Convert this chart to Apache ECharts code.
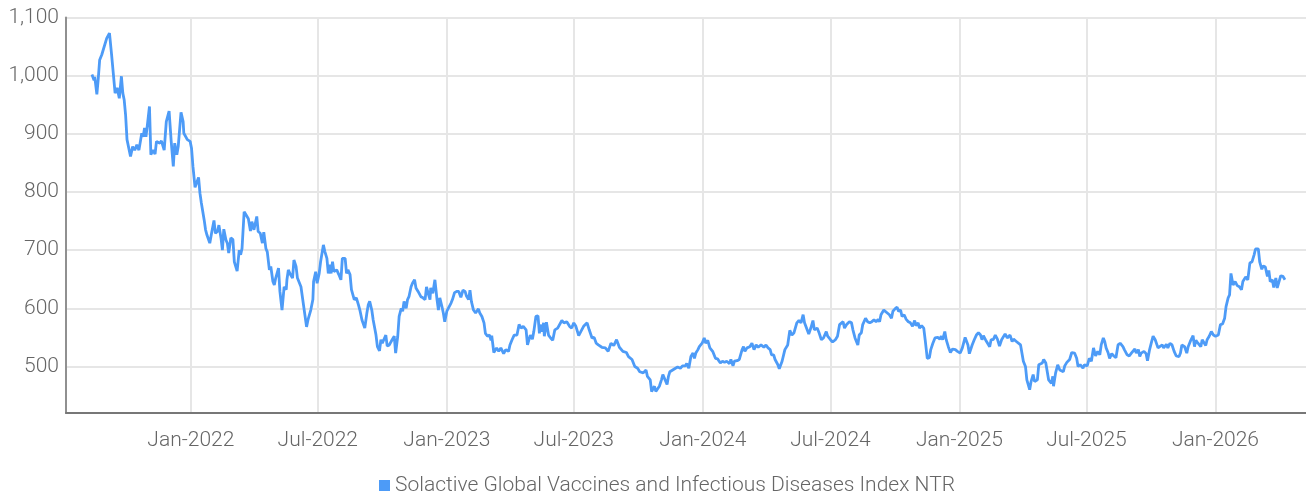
<!DOCTYPE html>
<html>
<head>
<meta charset="utf-8">
<script src="https://cdn.jsdelivr.net/npm/echarts@6/dist/echarts.min.js"></script>
<style>
html,body{margin:0;padding:0;background:#fff;}
#c{width:1306px;height:498px;}
</style>
</head>
<body>
<div id="c"></div>
<script>
const seriesName = 'Solactive Global Vaccines and Infectious Diseases Index NTR';

const points2021 = [
['2021-08-13',1002],['2021-08-16',992],['2021-08-17',998],['2021-08-20',968],['2021-08-22',995],['2021-08-24',1027],['2021-08-27',1036],
['2021-09-03',1064],['2021-09-07',1073],['2021-09-10',1036],['2021-09-15',970],['2021-09-18',979],['2021-09-21',961],['2021-09-24',999],['2021-09-26',970],['2021-09-28',958],['2021-09-30',932],
['2021-10-02',890],['2021-10-07',861],['2021-10-10',878],['2021-10-13',872],['2021-10-16',881],['2021-10-19',872],['2021-10-23',901],['2021-10-25',895],['2021-10-27',910],['2021-10-29',895],['2021-10-31',915],
['2021-11-03',947],['2021-11-05',864],['2021-11-08',872],['2021-11-11',865],['2021-11-13',887],['2021-11-18',884],['2021-11-20',888],['2021-11-24',872],['2021-11-27',921],
['2021-12-01',939],['2021-12-04',887],['2021-12-07',844],['2021-12-09',884],['2021-12-12',864],['2021-12-14',878],['2021-12-16',878],['2021-12-18',937],['2021-12-21',921],['2021-12-22',901],['2021-12-27',890],['2021-12-31',887]
];
const points2022 = [
['2022-01-02',875],['2022-01-04',844],['2022-01-07',808],['2022-01-09',809],['2022-01-12',825],['2022-01-14',798],['2022-01-16',781],['2022-01-20',752],['2022-01-22',735],['2022-01-24',726],['2022-01-28',712],['2022-01-31',732],
['2022-02-03',751],['2022-02-05',729],['2022-02-08',732],['2022-02-10',743],['2022-02-13',721],['2022-02-15',700],['2022-02-17',736],['2022-02-20',718],['2022-02-22',712],['2022-02-24',695],['2022-02-27',721],
['2022-03-02',718],['2022-03-04',680],['2022-03-08',664],['2022-03-11',700],['2022-03-13',692],['2022-03-15',703],['2022-03-18',766],['2022-03-20',762],['2022-03-22',764],['2022-03-24',754],['2022-03-27',733],['2022-03-29',749],
['2022-04-01',735],['2022-04-05',758],['2022-04-07',732],['2022-04-10',729],['2022-04-13',712],['2022-04-15',731],['2022-04-18',703],['2022-04-20',697],['2022-04-23',666],['2022-04-25',672],['2022-04-28',646],['2022-04-30',640],
['2022-05-02',652],['2022-05-06',669],['2022-05-08',629],['2022-05-11',597],['2022-05-14',637],['2022-05-17',632],['2022-05-18',649],['2022-05-20',666],['2022-05-23',658],['2022-05-26',652],['2022-05-28',683],['2022-05-31',672],
['2022-06-02',652],['2022-06-05',643],['2022-06-07',637],['2022-06-15',568],['2022-06-17',580],['2022-06-21',597],['2022-06-24',615],['2022-06-25',646],['2022-06-28',663],['2022-06-30',643],
['2022-07-03',660],['2022-07-05',680],['2022-07-09',709],['2022-07-11',698],['2022-07-14',686],['2022-07-16',660],['2022-07-18',675],['2022-07-20',660],['2022-07-22',680],['2022-07-24',663],['2022-07-28',666],['2022-07-31',658],
['2022-08-03',649],['2022-08-05',686],['2022-08-09',686],['2022-08-11',660],['2022-08-13',666],['2022-08-16',658],['2022-08-18',632],['2022-08-22',615],['2022-08-25',618],['2022-08-28',606],['2022-08-30',597],
['2022-09-02',580],['2022-09-06',566],['2022-09-09',592],['2022-09-11',606],['2022-09-13',612],['2022-09-16',597],['2022-09-18',580],['2022-09-22',554],['2022-09-24',534],['2022-09-27',527],['2022-09-29',546],
['2022-10-01',540],['2022-10-03',543],['2022-10-06',554],['2022-10-08',535],['2022-10-11',537],['2022-10-13',534],['2022-10-15',546],['2022-10-18',552],['2022-10-20',523],['2022-10-23',552],['2022-10-25',586],['2022-10-28',600],['2022-10-30',595],
['2022-11-01',612],['2022-11-04',600],['2022-11-06',615],['2022-11-08',620],['2022-11-11',637],['2022-11-13',643],['2022-11-16',649],['2022-11-18',635],['2022-11-21',629],['2022-11-25',620],['2022-11-28',618],
['2022-12-01',615],['2022-12-03',637],['2022-12-06',623],['2022-12-08',615],['2022-12-09',635],['2022-12-12',626],['2022-12-15',649],['2022-12-18',615],['2022-12-20',597],['2022-12-22',618],['2022-12-25',603],['2022-12-27',592],['2022-12-29',577]
];
const points2023 = [
['2023-01-01',595],['2023-01-03',592],['2023-01-07',609],['2023-01-09',615],['2023-01-12',627],['2023-01-15',629],['2023-01-18',629],['2023-01-21',619],['2023-01-24',631],['2023-01-27',629],['2023-01-29',621],
['2023-02-01',615],['2023-02-03',631],['2023-02-05',612],['2023-02-08',597],['2023-02-11',592],['2023-02-15',599],['2023-02-17',592],['2023-02-20',586],['2023-02-23',575],['2023-02-25',557],['2023-02-28',552],
['2023-03-03',554],['2023-03-05',545],['2023-03-06',553],['2023-03-09',524],['2023-03-13',532],['2023-03-16',526],['2023-03-19',532],['2023-03-23',522],['2023-03-26',529],['2023-03-30',526],
['2023-04-01',537],['2023-04-04',546],['2023-04-07',554],['2023-04-11',554],['2023-04-14',572],['2023-04-17',566],['2023-04-20',569],['2023-04-24',563],['2023-04-26',537],['2023-04-30',554],
['2023-05-03',547],['2023-05-05',560],['2023-05-08',586],['2023-05-11',587],['2023-05-13',557],['2023-05-14',572],['2023-05-16',560],['2023-05-19',575],['2023-05-20',552],['2023-05-23',576],['2023-05-26',554],['2023-05-29',549],
['2023-06-01',545],['2023-06-04',563],['2023-06-08',566],['2023-06-10',563],['2023-06-14',579],['2023-06-17',575],['2023-06-21',577],['2023-06-25',569],['2023-06-28',566],
['2023-07-01',575],['2023-07-04',569],['2023-07-08',553],['2023-07-11',560],['2023-07-15',569],['2023-07-20',575],['2023-07-23',563],['2023-07-27',549],['2023-07-30',550],
['2023-08-02',540],['2023-08-05',537],['2023-08-10',533],['2023-08-15',532],['2023-08-19',526],['2023-08-23',540],['2023-08-27',536],['2023-08-31',546],
['2023-09-04',533],['2023-09-09',526],['2023-09-14',524],['2023-09-17',517],['2023-09-22',512],['2023-09-26',500],['2023-09-30',497],
['2023-10-03',491],['2023-10-05',494],['2023-10-08',489],['2023-10-12',494],['2023-10-14',483],['2023-10-18',477],['2023-10-20',457],['2023-10-24',466],['2023-10-26',457],['2023-10-28',454],['2023-10-31',466],
['2023-11-03',477],['2023-11-05',486],['2023-11-07',486],['2023-11-11',469],['2023-11-13',483],['2023-11-15',491],['2023-11-19',494],['2023-11-23',497],['2023-11-26',499],['2023-11-30',497],
['2023-12-03',501],['2023-12-07',501],['2023-12-09',505],['2023-12-12',497],['2023-12-15',517],['2023-12-18',523],['2023-12-20',514],['2023-12-22',523],['2023-12-25',529],['2023-12-27',534],['2023-12-31',540]
];
const points2024 = [
['2024-01-03',549],['2024-01-05',540],['2024-01-08',545],['2024-01-11',532],['2024-01-15',526],['2024-01-19',514],['2024-01-22',513],['2024-01-26',506],['2024-01-29',509],
['2024-02-01',507],['2024-02-04',509],['2024-02-08',505],['2024-02-10',512],['2024-02-13',501],['2024-02-15',509],['2024-02-19',510],['2024-02-22',512],['2024-02-26',529],['2024-02-28',534],
['2024-03-01',526],['2024-03-04',532],['2024-03-08',534],['2024-03-11',540],['2024-03-14',529],['2024-03-17',537],['2024-03-20',533],['2024-03-24',537],['2024-03-28',533],['2024-03-31',537],
['2024-04-03',532],['2024-04-06',529],['2024-04-08',520],['2024-04-11',520],['2024-04-13',512],['2024-04-17',503],['2024-04-19',496],['2024-04-20',497],['2024-04-23',509],['2024-04-25',506],['2024-04-27',529],
['2024-05-01',537],['2024-05-04',562],['2024-05-07',554],['2024-05-10',558],['2024-05-14',575],['2024-05-17',579],['2024-05-20',575],['2024-05-23',589],['2024-05-25',575],['2024-05-27',577],['2024-05-31',556],
['2024-06-03',566],['2024-06-06',579],['2024-06-08',563],['2024-06-12',566],['2024-06-15',557],['2024-06-18',546],['2024-06-21',549],['2024-06-25',560],['2024-06-27',552],
['2024-07-01',546],['2024-07-04',542],['2024-07-08',546],['2024-07-11',552],['2024-07-14',572],['2024-07-16',573],['2024-07-19',577],['2024-07-21',566],['2024-07-24',572],['2024-07-26',569],['2024-07-28',577],['2024-07-31',575],
['2024-08-02',563],['2024-08-05',549],['2024-08-09',537],['2024-08-11',554],['2024-08-14',558],['2024-08-16',572],['2024-08-20',583],['2024-08-23',577],['2024-08-26',575],['2024-08-29',577],
['2024-09-01',580],['2024-09-04',577],['2024-09-07',581],['2024-09-09',577],['2024-09-11',589],['2024-09-15',597],['2024-09-17',600],['2024-09-20',592],['2024-09-23',589],['2024-09-26',583],['2024-09-28',595],
['2024-10-01',599],['2024-10-04',602],['2024-10-06',595],['2024-10-09',597],['2024-10-11',586],['2024-10-14',589],['2024-10-17',581],['2024-10-20',577],['2024-10-23',575],['2024-10-26',569],['2024-10-29',579],['2024-10-31',570],
['2024-11-03',575],['2024-11-05',566],['2024-11-08',570],['2024-11-11',566],['2024-11-13',546],['2024-11-16',514],['2024-11-19',515],['2024-11-21',529],['2024-11-24',540],['2024-11-27',549],
['2024-12-01',550],['2024-12-04',547],['2024-12-06',552],['2024-12-08',546],['2024-12-11',560],['2024-12-13',546],['2024-12-16',534],['2024-12-19',524],['2024-12-22',530],['2024-12-26',529],['2024-12-29',526]
];
const points2025 = [
['2025-01-02',523],['2025-01-05',532],['2025-01-09',550],['2025-01-13',537],['2025-01-15',522],['2025-01-19',537],['2025-01-22',546],['2025-01-25',554],['2025-01-28',558],['2025-01-31',554],
['2025-02-02',546],['2025-02-04',553],['2025-02-07',546],['2025-02-09',546],['2025-02-13',534],['2025-02-15',546],['2025-02-18',546],['2025-02-21',554],['2025-02-24',547],['2025-02-27',535],
['2025-03-02',546],['2025-03-04',543],['2025-03-07',556],['2025-03-10',549],['2025-03-12',546],['2025-03-14',554],['2025-03-17',543],['2025-03-19',547],['2025-03-23',543],['2025-03-25',546],['2025-03-29',537],
['2025-04-02',509],['2025-04-05',500],['2025-04-07',477],['2025-04-11',460],['2025-04-13',474],['2025-04-16',486],['2025-04-18',474],['2025-04-22',477],['2025-04-24',503],['2025-04-26',500],['2025-04-29',506],
['2025-05-01',512],['2025-05-04',506],['2025-05-08',477],['2025-05-12',471],['2025-05-14',483],['2025-05-15',466],['2025-05-18',489],['2025-05-21',503],['2025-05-24',494],['2025-05-26',497],['2025-05-29',491],['2025-05-31',501],
['2025-06-03',507],['2025-06-07',512],['2025-06-10',524],['2025-06-14',523],['2025-06-17',514],['2025-06-19',500],['2025-06-22',503],['2025-06-26',497],['2025-06-28',503],
['2025-07-02',501],['2025-07-05',514],['2025-07-08',509],['2025-07-11',532],['2025-07-14',518],['2025-07-17',526],['2025-07-20',520],['2025-07-22',537],['2025-07-25',549],['2025-07-27',543],['2025-07-29',532],
['2025-08-01',523],['2025-08-03',514],['2025-08-06',522],['2025-08-09',518],['2025-08-12',515],['2025-08-15',537],['2025-08-18',540],['2025-08-22',534],['2025-08-24',529],['2025-08-28',520],['2025-08-31',518],
['2025-09-03',523],['2025-09-05',520],['2025-09-08',530],['2025-09-10',523],['2025-09-13',529],['2025-09-15',517],['2025-09-17',523],['2025-09-21',526],['2025-09-24',522],['2025-09-26',510],['2025-09-29',529],
['2025-10-02',543],['2025-10-04',552],['2025-10-07',546],['2025-10-11',532],['2025-10-13',534],['2025-10-17',537],['2025-10-19',532],['2025-10-23',538],['2025-10-25',532],['2025-10-28',540],['2025-10-31',537],
['2025-11-03',526],['2025-11-06',518],['2025-11-10',517],['2025-11-12',523],['2025-11-14',537],['2025-11-18',534],['2025-11-21',523],['2025-11-23',534],['2025-11-26',543],['2025-11-30',553],
['2025-12-02',534],['2025-12-04',545],['2025-12-07',540],['2025-12-11',534],['2025-12-13',546],['2025-12-15',546],['2025-12-18',536],['2025-12-20',546],['2025-12-23',552],['2025-12-26',560],['2025-12-29',554]
];
const points2026 = [
['2026-01-01',552],['2026-01-05',554],['2026-01-08',572],['2026-01-11',573],['2026-01-14',583],['2026-01-16',603],['2026-01-19',618],['2026-01-21',623],['2026-01-23',660],['2026-01-26',640],['2026-01-29',646],
['2026-02-01',639],['2026-02-04',637],['2026-02-07',632],['2026-02-09',646],['2026-02-13',654],['2026-02-16',649],['2026-02-19',678],['2026-02-22',680],['2026-02-25',692],['2026-02-27',702],
['2026-03-03',702],['2026-03-05',680],['2026-03-08',667],['2026-03-10',673],['2026-03-13',671],['2026-03-16',655],['2026-03-18',665],['2026-03-20',646],['2026-03-23',649],['2026-03-25',636],['2026-03-28',652],['2026-03-30',635],
['2026-04-01',633],['2026-04-04',656],['2026-04-07',655],['2026-04-10',649]
];

const xTickDates = ['2022-01-01','2022-07-01','2023-01-01','2023-07-01','2024-01-01','2024-07-01','2025-01-01','2025-07-01','2026-01-01'];
const yTicks = [500, 600, 700, 800, 900, 1000, 1100];
const xRange = ['2021-07-07', '2026-05-10'];
const yRange = [420, 1100];

const MONTHS = ['Jan','Feb','Mar','Apr','May','Jun','Jul','Aug','Sep','Oct','Nov','Dec'];
function toTime(s) {
  const p = s.split('-').map(Number);
  return Date.UTC(p[0], p[1] - 1, p[2]);
}
const data = [].concat(points2021, points2022, points2023, points2024, points2025, points2026)
  .map(function (d) { return [toTime(d[0]), d[1]]; });
const xTickTimes = xTickDates.map(toTime);

const FONT = 'Roboto';
const TEXT_COLOR = '#666666';
const GRID_COLOR = '#e6e6e6';
const LINE_COLOR = '#4d9bf7';

const chart = echarts.init(document.getElementById('c'), null, { renderer: 'canvas' });
chart.setOption({
  animation: false,
  backgroundColor: '#ffffff',
  grid: { left: 66, right: 0, top: 17.5, bottom: 85, containLabel: false },
  legend: {
    data: [seriesName],
    left: 374,
    top: 470,
    icon: 'rect',
    itemWidth: 11,
    itemHeight: 11,
    textStyle: { fontFamily: FONT, fontSize: 21, fontWeight: 300, color: TEXT_COLOR }
  },
  xAxis: {
    type: 'value',
    min: toTime(xRange[0]),
    max: toTime(xRange[1]),
    axisLine: { show: true, onZero: false, lineStyle: { color: '#777777', width: 2 } },
    axisTick: { show: false, customValues: xTickTimes },
    axisLabel: {
      customValues: xTickTimes,
      margin: 17,
      fontFamily: FONT,
      fontSize: 21,
      fontWeight: 300,
      color: TEXT_COLOR,
      formatter: function (v) {
        const d = new Date(v);
        return MONTHS[d.getUTCMonth()] + '-' + d.getUTCFullYear();
      }
    },
    splitLine: { show: true, lineStyle: { color: GRID_COLOR, width: 2 } }
  },
  yAxis: {
    type: 'value',
    min: yRange[0],
    max: yRange[1],
    axisLine: { show: true, lineStyle: { color: '#909090', width: 2 } },
    axisTick: { show: false, customValues: yTicks },
    axisLabel: {
      customValues: yTicks,
      margin: 7,
      fontFamily: FONT,
      fontSize: 21,
      fontWeight: 300,
      color: TEXT_COLOR,
      formatter: function (v) { return Number(v).toLocaleString('en-US'); }
    },
    splitLine: { show: true, lineStyle: { color: GRID_COLOR, width: 2 } }
  },
  series: [{
    name: seriesName,
    type: 'line',
    data: data,
    showSymbol: false,
    symbol: 'none',
    lineStyle: { color: LINE_COLOR, width: 2.8 },
    itemStyle: { color: LINE_COLOR }
  }]
});
</script>
</body>
</html>
